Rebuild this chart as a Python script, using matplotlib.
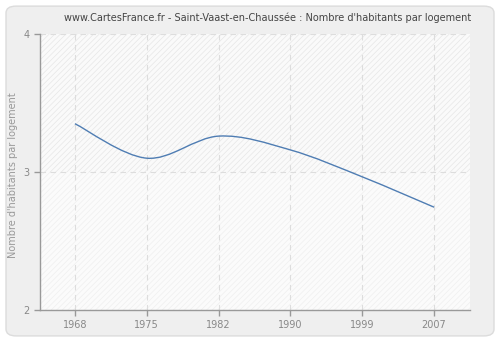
import matplotlib.pyplot as plt
import numpy as np
from matplotlib.path import Path
from matplotlib.patches import PathPatch, FancyBboxPatch, Rectangle

# données
annees = ['1968', '1975', '1982', '1990', '1999', '2007']
habitants_par_logement = [3.35, 3.10, 3.26, 3.16, 2.965, 2.745]
titre = "www.CartesFrance.fr - Saint-Vaast-en-Chaussée : Nombre d'habitants par logement"

plt.rcParams['font.family'] = ['DejaVu Sans']
plt.rcParams['hatch.linewidth'] = 0.5

fig = plt.figure(figsize=(5, 3.4), dpi=100)
fig.patch.set_facecolor('white')

# cadre arrondi gris
cadre = FancyBboxPatch((0.012, 0.012), 0.976, 0.97, boxstyle='round,pad=0,rounding_size=0.02',
                       transform=fig.transFigure, facecolor='#efefef', edgecolor='#dcdcdc',
                       linewidth=1, zorder=-10)
fig.patches.append(cadre)

ax = fig.add_axes([40 / 500, 30 / 340, 430 / 500, 276 / 340])
ax.set_zorder(5)
ax.set_facecolor('#fbfbfb')

x = np.arange(len(annees))
y = np.array(habitants_par_logement)

ax.set_xlim(-0.486, 5.5)
ax.set_ylim(2, 4)

# bandes hachurées
ax.add_patch(Rectangle((-1, 3), 10, 1, facecolor='#fafafa', edgecolor='#e6e6e6',
                       hatch='//////', linewidth=0, zorder=0))
ax.add_patch(Rectangle((-1, 2), 10, 1, facecolor='#fbfbfb', edgecolor='#efefef',
                       hatch='//////', linewidth=0, zorder=0))

# courbe lissée (Catmull-Rom -> Bézier)
pts = np.column_stack([x, y])
ext = np.vstack([pts[0], pts, pts[-1]])
verts = [tuple(pts[0])]
codes = [Path.MOVETO]
for i in range(1, len(ext) - 2):
    p0, p1, p2, p3 = ext[i - 1], ext[i], ext[i + 1], ext[i + 2]
    c1 = p1 + (p2 - p0) / 6
    c2 = p2 - (p3 - p1) / 6
    verts += [tuple(c1), tuple(c2), tuple(p2)]
    codes += [Path.CURVE4] * 3
ax.add_patch(PathPatch(Path(verts, codes), facecolor='none', edgecolor='#4f7db3',
                       linewidth=1, zorder=3))

ax.set_xticks(x)
ax.set_xticklabels(annees)
ax.set_yticks([2, 3, 4])

ax.grid(color='#dddddd', linestyle=(0, (5, 4)), linewidth=0.8)
ax.set_axisbelow(True)

for s in ['top', 'right']:
    ax.spines[s].set_visible(False)
for s in ['left', 'bottom']:
    ax.spines[s].set_color('#999999')
    ax.spines[s].set_linewidth(1)

ax.tick_params(colors='#999999', labelcolor='#888888', labelsize=7, length=4, width=1)
ax.set_ylabel("Nombre d'habitants par logement", color='#999999', fontsize=7)
ax.yaxis.set_label_coords(-22 / 430, 0.49)

fig.text(0.535, 0.947, titre, ha='center', va='center', fontsize=7, color='#444444')

fig.savefig('out.png', dpi=100, facecolor=fig.get_facecolor())
